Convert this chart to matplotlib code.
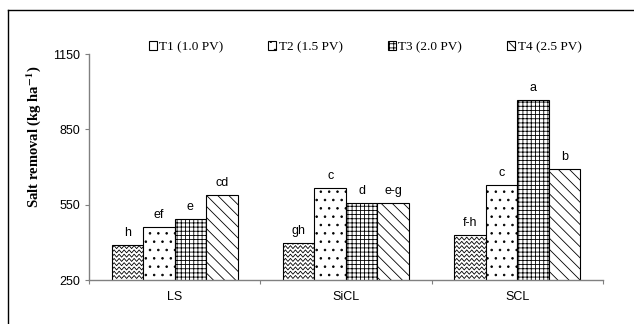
import matplotlib
matplotlib.use('Agg')
import matplotlib.pyplot as plt
import numpy as np

# data
soils = ['LS', 'SiCL', 'SCL']
treatments = ['T1 (1.0 PV)', 'T2 (1.5 PV)', 'T3 (2.0 PV)', 'T4 (2.5 PV)']
t1 = [390, 399, 430]
t2 = [463, 617, 630]
t3 = [493, 557, 967]
t4 = [590, 557, 694]
letters_t1 = ['h', 'gh', 'f-h']
letters_t2 = ['ef', 'c', 'c']
letters_t3 = ['e', 'd', 'a']
letters_t4 = ['cd', 'e-g', 'b']
yticks = [250, 550, 850, 1150]

series = [t1, t2, t3, t4]
letters = [letters_t1, letters_t2, letters_t3, letters_t4]
hatches = ['', '..', '++++', '\\\\\\']

plt.rcParams['hatch.linewidth'] = 0.6

fig = plt.figure(figsize=(6.34, 3.24), dpi=100)
ax = fig.add_axes([0.1404, 0.1358, 0.951 - 0.1404, 0.833 - 0.1358])

# outer frame of the original figure (left and top edges)
fig.add_artist(plt.Line2D([0.0126, 0.0126], [0, 0.97], color='black', lw=1.0))
fig.add_artist(plt.Line2D([0.0126, 1.0], [0.97, 0.97], color='black', lw=1.0))

gray = '#808080'
w = 0.184
x = np.arange(len(soils)) + 0.5
handles = []
for i, (vals, hatch) in enumerate(zip(series, hatches)):
    pos = x + (i - 1.5) * w
    bars = ax.bar(pos, vals, width=w, color='white', edgecolor='black',
                  hatch=hatch, linewidth=0.8, label=treatments[i], zorder=2)
    handles.append(bars)
    for p, v, lab in zip(pos, vals, letters[i]):
        ax.annotate(lab, (p, v), xytext=(0, 4), textcoords='offset points',
                    ha='center', va='bottom', fontsize=9, family='Liberation Sans')
    if i == 0:
        # wavy fill for T1, clipped to each bar
        for rect in bars:
            x0 = rect.get_x()
            xs = np.arange(x0, x0 + rect.get_width() + 0.015, 0.0146)
            for yb in np.arange(262, rect.get_height(), 17):
                ys = yb + np.where(np.arange(len(xs)) % 2 == 0, -6, 6)
                ln, = ax.plot(xs, ys, color='black', lw=0.6, zorder=2.5)
                ln.set_clip_path(rect)

ax.set_xlim(0, 3)
ax.set_ylim(250, 1150)
ax.set_yticks(yticks)
ax.set_xticks([0, 1, 2, 3])
ax.set_xticklabels([])
ax.set_xticks(x, minor=True)
ax.set_xticklabels(soils, minor=True)
ax.tick_params(axis='x', which='minor', length=0, pad=8, labelsize=9)
ax.tick_params(axis='x', which='major', length=3, direction='out', color=gray)
ax.tick_params(axis='y', length=3, color=gray, labelsize=9)
for lab in ax.get_xticklabels(minor=True) + ax.get_yticklabels():
    lab.set_family('Liberation Sans')

for s in ['top', 'right']:
    ax.spines[s].set_visible(False)
for s in ['left', 'bottom']:
    ax.spines[s].set_color(gray)
    ax.spines[s].set_linewidth(1.0)

ylab = ax.set_ylabel(r'Salt removal (kg ha$^{\mathbf{-1}}$)', family='Liberation Serif',
                     fontweight='bold', fontsize=10.5)
ylab.set_math_fontfamily('stix')
ax.yaxis.set_label_coords(-0.09, 0.633)

ax.legend(handles=handles, loc='center', bbox_to_anchor=(0.537, 1.03), ncol=4,
          frameon=False, prop={'family': 'Liberation Serif', 'size': 9.5},
          handlelength=0.6, handleheight=0.6, handletextpad=0.2, columnspacing=3.4)

fig.savefig('out.png', dpi=100)
